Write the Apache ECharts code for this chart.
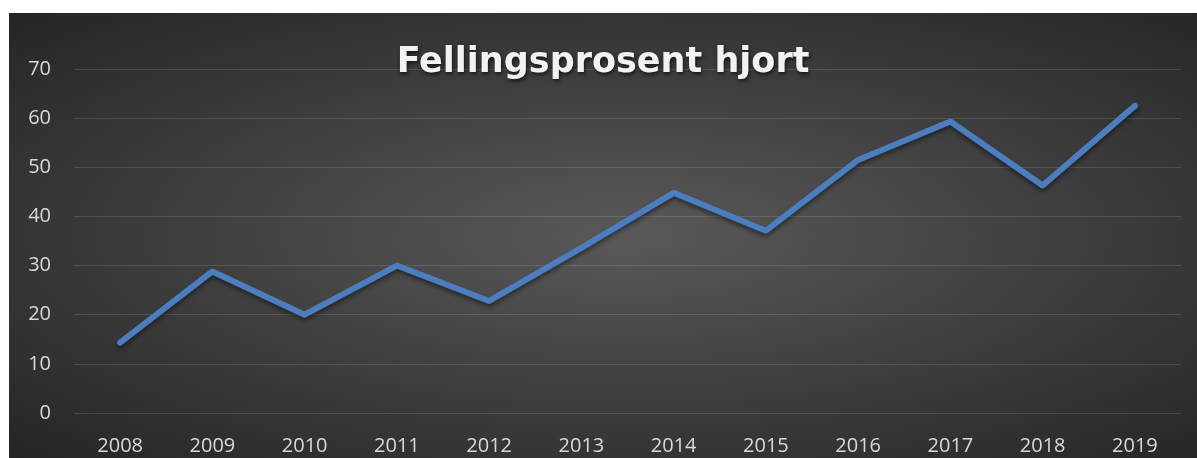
<!DOCTYPE html>
<html>
<head>
<meta charset="utf-8">
<script src="https://cdn.jsdelivr.net/npm/echarts@6/dist/echarts.min.js"></script>
<style>
  html, body { margin: 0; padding: 0; background: #ffffff; }
  #chart {
    position: absolute; left: 9px; top: 13px; width: 1188px; height: 445px;
    background: radial-gradient(ellipse at 52% 50%, #595959 0%, #3c3c3c 55%, #252525 100%);
  }
</style>
</head>
<body>
<div id="chart"></div>
<script>
  var years = ['2008', '2009', '2010', '2011', '2012', '2013', '2014', '2015', '2016', '2017', '2018', '2019']
  var prosent = [14.3, 28.8, 20.0, 30.0, 22.8, 33.6, 44.8, 37.1, 51.5, 59.3, 46.3, 62.5]
  var yTicks = { min: 0, max: 70, step: 10 }

  var myChart = echarts.init(document.getElementById('chart'))
  myChart.setOption({
    backgroundColor: 'transparent',
    title: {
      text: 'Fellingsprosent hjort',
      left: 'center',
      top: 27,
      textStyle: {
        fontFamily: 'DejaVu Sans',
        fontWeight: 'bold',
        fontSize: 35,
        color: '#f2f2f2',
        textShadowColor: 'rgba(0,0,0,0.7)',
        textShadowBlur: 4,
        textShadowOffsetX: 1,
        textShadowOffsetY: 2
      }
    },
    grid: {
      left: 65,
      right: 16,
      top: 56,
      bottom: 45
    },
    xAxis: {
      type: 'category',
      data: years,
      boundaryGap: true,
      axisLine: { show: false },
      axisTick: { show: false },
      axisLabel: {
        color: '#d9d9d9',
        fontFamily: 'Open Sans',
        fontSize: 20,
        margin: 23
      }
    },
    yAxis: {
      type: 'value',
      min: yTicks.min,
      max: yTicks.max,
      interval: yTicks.step,
      axisLine: { show: false },
      axisTick: { show: false },
      axisLabel: {
        color: '#d9d9d9',
        fontFamily: 'Open Sans',
        fontSize: 20,
        margin: 23
      },
      splitLine: {
        lineStyle: { color: 'rgba(255,255,255,0.12)', width: 1 }
      }
    },
    series: [
      {
        type: 'line',
        data: prosent,
        showSymbol: false,
        symbol: 'none',
        lineStyle: {
          color: '#4a7ebf',
          width: 6,
          cap: 'round',
          join: 'round',
          shadowColor: 'rgba(0,0,0,0.45)',
          shadowBlur: 4,
          shadowOffsetY: 3
        }
      }
    ]
  }, true)
</script>
</body>
</html>
